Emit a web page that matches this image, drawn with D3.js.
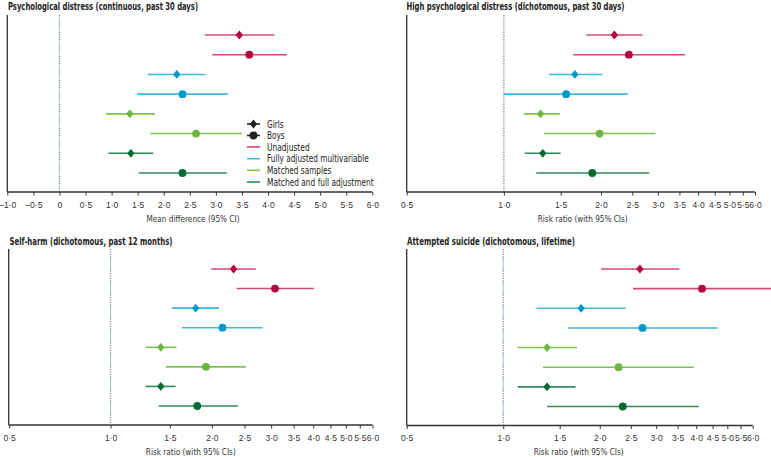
<!DOCTYPE html>
<html><head><meta charset="utf-8">
<script src="https://cdn.jsdelivr.net/npm/d3@7"></script>
<style>
html,body{margin:0;padding:0;background:#fff;}
svg{display:block;font-family:"Liberation Sans Narrow","Arial Narrow","DejaVu Sans Condensed",sans-serif;}
</style></head><body>
<svg id="c" width="771" height="457"></svg>
<script>
// Row order: Girls/Boys for each adjustment group
const groups = ["Unadjusted","Fully adjusted multivariable","Matched samples","Matched and full adjustment"];
const sexes = ["Girls","Boys"];

// Panel A: Psychological distress (continuous) – mean difference
const pdEst = [3.45, 3.64, 2.25, 2.36, 1.35, 2.62, 1.37, 2.36];
const pdLo  = [2.79, 2.93, 1.69, 1.49, 0.89, 1.74, 0.94, 1.52];
const pdHi  = [4.12, 4.36, 2.80, 3.23, 1.83, 3.50, 1.80, 3.21];
// Panel B: High psychological distress – risk ratio
const hpdEst = [2.20, 2.44, 1.66, 1.56, 1.30, 1.98, 1.32, 1.88];
const hpdLo  = [1.80, 1.64, 1.38, 1.00, 1.15, 1.33, 1.16, 1.26];
const hpdHi  = [2.69, 3.64, 2.02, 2.42, 1.49, 2.95, 1.50, 2.82];
// Panel C: Self-harm – risk ratio
const shEst = [2.32, 3.08, 1.79, 2.15, 1.41, 1.92, 1.41, 1.81];
const shLo  = [1.99, 2.37, 1.52, 1.63, 1.27, 1.46, 1.27, 1.39];
const shHi  = [2.70, 4.02, 2.10, 2.83, 1.57, 2.52, 1.56, 2.39];
// Panel D: Attempted suicide – risk ratio
const asEst = [2.67, 4.17, 1.75, 2.72, 1.37, 2.29, 1.37, 2.36];
const asLo  = [2.02, 2.54, 1.27, 1.59, 1.11, 1.33, 1.11, 1.37];
const asHi  = [3.54, 7.00, 2.41, 4.67, 1.70, 3.93, 1.68, 4.07];

const mdTicks = [-1,-0.5,0,0.5,1,1.5,2,2.5,3,3.5,4,4.5,5,5.5,6];
const rrTicks = [0.5,1,1.5,2,2.5,3,3.5,4,4.5,5,5.5,6];

const titles = ["Psychological distress (continuous, past 30 days)",
  "High psychological distress (dichotomous, past 30 days)",
  "Self-harm (dichotomous, past 12 months)",
  "Attempted suicide (dichotomous, lifetime)"];
const axisTitles = ["Mean difference (95% CI)","Risk ratio (with 95% CIs)","Risk ratio (with 95% CIs)","Risk ratio (with 95% CIs)"];

const markerCol = ["#b8003b","#0098c9","#6cb53f","#006b34"];
const lineCol   = ["#cc4b70","#42b9da","#7fc250","#2f8c58"];

const svg = d3.select("#c");

const panels = [
  {est:pdEst, lo:pdLo, hi:pdHi, log:false, dom:[-1,6], xr:[7.3,372.3], yAxisX:7.3, top:15, axisY:192, ref:0, ticks:mdTicks, titleX:8, titleY:10, titleW:190, atC:193},
  {est:hpdEst, lo:hpdLo, hi:hpdHi, log:true, dom:[0.5,6], xr:[406.7,755], yAxisX:406.7, top:15, axisY:192, ref:1, ticks:rrTicks, titleX:406.5, titleY:10, titleW:218, atC:582.7},
  {est:shEst, lo:shLo, hi:shHi, log:true, dom:[0.5,6], xr:[9.2,372.5], yAxisX:8.7, top:249, axisY:425, ref:1, ticks:rrTicks, titleX:9.5, titleY:244.5, titleW:163, atC:190.8},
  {est:asEst, lo:asLo, hi:asHi, log:true, dom:[0.5,6], xr:[406.7,752.7], yAxisX:406.7, top:249, axisY:425.5, ref:1, ticks:rrTicks, titleX:407, titleY:244.5, titleW:168, atC:578.7}
];

function fmt(v){
  if (v === 0) return "0";
  const s = Math.abs(v).toFixed(1).replace(".", "·");
  return (v < 0 ? "–" : "") + s;
}

function diamondPath(hw, hh){
  const p = d3.path();
  p.moveTo(0, -hh); p.lineTo(hw, 0); p.lineTo(0, hh); p.lineTo(-hw, 0); p.closePath();
  return p.toString();
}
const diamond = diamondPath(3.7, 4.4);

panels.forEach((p, pi) => {
  const x = p.log ? d3.scaleLog().domain(p.dom).range(p.xr) : d3.scaleLinear().domain(p.dom).range(p.xr);
  const rows = d3.range(8);
  const y = d3.scalePoint().domain(rows).range([p.top + 20, p.axisY - 19]);
  const g = svg.append("g");

  // title
  g.append("text").attr("x", p.titleX).attr("y", p.titleY)
    .attr("font-size", 10.5).attr("font-weight", "bold").attr("fill", "#222")
    .attr("textLength", p.titleW).attr("lengthAdjust", "spacingAndGlyphs")
    .text(titles[pi]);

  // y axis line
  g.append("line").attr("x1", p.yAxisX).attr("x2", p.yAxisX)
    .attr("y1", p.top).attr("y2", p.axisY)
    .attr("stroke", "#333").attr("stroke-width", 1.3);

  // x axis
  const ax = d3.axisBottom(x).tickValues(p.ticks).tickFormat(fmt).tickSize(3.5).tickSizeOuter(0);
  const axg = g.append("g").attr("transform", `translate(0,${p.axisY})`).call(ax);
  axg.select(".domain").attr("stroke", "#333").attr("stroke-width", 1.3)
    .attr("d", `M${p.yAxisX},0H${x(p.dom[1])}`);
  axg.selectAll(".tick line").attr("stroke", "#333").attr("stroke-width", 1);
  axg.selectAll(".tick text").attr("font-size", 8.5).attr("fill", "#333")
    .attr("font-family", "inherit").attr("dy", "0.95em").attr("y", 7.5);

  // axis title
  g.append("text").attr("x", p.atC).attr("y", p.axisY + 29.5)
    .attr("text-anchor", "middle").attr("font-size", 9.5).attr("fill", "#333")
    .attr("textLength", pi === 0 ? 93 : 90).attr("lengthAdjust", "spacingAndGlyphs")
    .text(axisTitles[pi]);

  // reference line
  g.append("line").attr("x1", x(p.ref)).attr("x2", x(p.ref))
    .attr("y1", p.top).attr("y2", p.axisY)
    .attr("stroke", "#6f8b99").attr("stroke-width", 1.3).attr("stroke-dasharray", "1.2,1.2");

  // CI lines + markers
  rows.forEach(i => {
    const gi = Math.floor(i / 2), boy = i % 2 === 1;
    const x2 = Math.min(x(p.hi[i]), 771);
    g.append("line").attr("x1", x(p.lo[i])).attr("x2", x2)
      .attr("y1", y(i)).attr("y2", y(i))
      .attr("stroke", lineCol[gi]).attr("stroke-width", 1.6);
    if (boy) {
      g.append("circle").attr("cx", x(p.est[i])).attr("cy", y(i)).attr("r", 3.9)
        .attr("fill", markerCol[gi]);
    } else {
      g.append("path").attr("d", diamond)
        .attr("transform", `translate(${x(p.est[i])},${y(i)})`)
        .attr("fill", markerCol[gi]);
    }
  });

  // legend in first panel
  if (pi === 0) {
    const lg = g.append("g");
    const ly = [124, 135.5, 147, 158.7, 170.3, 182];
    const tw = [16.7, 17.7, 42.7, 101.7, 64.3, 106.7];
    const lx0 = 247, lx1 = 260, tx = 267;
    sexes.forEach((s, k) => {
      lg.append("line").attr("x1", lx0).attr("x2", lx1).attr("y1", ly[k]).attr("y2", ly[k])
        .attr("stroke", "#222").attr("stroke-width", 1.6);
      if (k === 0) lg.append("path").attr("d", diamond)
        .attr("transform", `translate(${(lx0+lx1)/2},${ly[k]})`).attr("fill", "#222");
      else lg.append("circle").attr("cx", (lx0+lx1)/2).attr("cy", ly[k]).attr("r", 3.9).attr("fill", "#222");
      lg.append("text").attr("x", tx).attr("y", ly[k]).attr("dy", "0.35em")
        .attr("font-size", 10).attr("fill", "#222")
        .attr("textLength", tw[k]).attr("lengthAdjust", "spacingAndGlyphs").text(s);
    });
    groups.forEach((gname, k) => {
      const yy = ly[k + 2];
      lg.append("line").attr("x1", lx0).attr("x2", lx1).attr("y1", yy).attr("y2", yy)
        .attr("stroke", lineCol[k]).attr("stroke-width", 1.6);
      lg.append("text").attr("x", tx).attr("y", yy).attr("dy", "0.35em")
        .attr("font-size", 10).attr("fill", "#222")
        .attr("textLength", tw[k + 2]).attr("lengthAdjust", "spacingAndGlyphs").text(gname);
    });
  }
});
</script></body></html>
